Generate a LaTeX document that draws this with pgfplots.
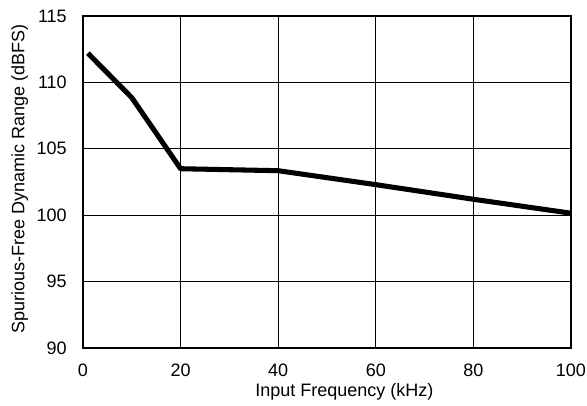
\documentclass[border=0pt]{standalone}
\usepackage{fontspec}
\setmainfont{Liberation Sans}
\usepackage{pgfplots}
\pgfplotsset{compat=1.18}
\begin{document}
\begin{tikzpicture}[x=1pt,y=1pt]
\useasboundingbox (-62.25pt,-43.5pt) rectangle (378pt,261pt);
\begin{axis}[
  at={(0,0)}, anchor=south west,
  scale only axis,
  width=366pt, height=249pt,
  xmin=0, xmax=100, ymin=90, ymax=115,
  xtick={0,20,...,100}, ytick={90,95,...,115},
  grid=major,
  major grid style={black, line width=0.7pt},
  axis line style={black, line width=1.5pt},
  major tick length=0pt,
  tick label style={font=\fontsize{13.5pt}{15pt}\selectfont, inner sep=0pt},
  label style={font=\fontsize{13.5pt}{15pt}\selectfont},
  /pgf/number format/assume math mode=true,
  xticklabel style={anchor=center, yshift=-16.5pt},
  yticklabel style={anchor=east, xshift=-12pt},
  xlabel={Input Frequency (kHz)},
  ylabel={Spurious-Free Dynamic Range (dBFS)},
  xlabel style={at={(axis description cs:0.5,0)}, anchor=center, yshift=-33pt, xshift=13pt},
  ylabel style={at={(axis description cs:0,0.5)}, anchor=center, yshift=47.5pt, xshift=2pt},
  clip=false,
]
\addplot[black, line width=3.8pt, line join=round] coordinates {
  (1,112.2) (10,108.85) (20,103.5) (40,103.35) (60,102.3) (80,101.2) (100,100.15)
};
\end{axis}
\end{tikzpicture}
\end{document}
